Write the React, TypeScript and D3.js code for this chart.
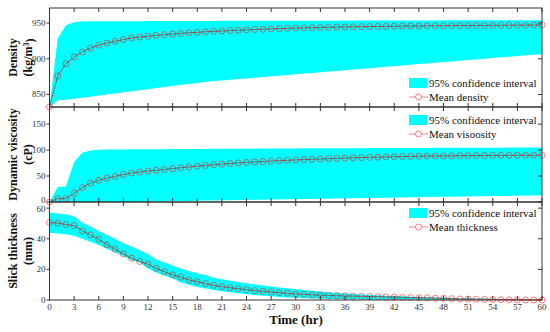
import React from "react";
import * as d3 from "d3";

const hours = d3.range(0, 61);

const densityMean = [832.5, 876, 893, 902.5, 909.5, 915, 919, 922, 924.5, 926.8, 929, 930.3, 931.5, 932.6, 933.7, 934.6, 935.5, 936.3, 937, 937.7, 938.3, 938.9, 939.4, 939.9, 940.4, 940.9, 941.3, 941.7, 942.1, 942.5, 942.9, 943.2, 943.5, 943.8, 944, 944.3, 944.5, 944.7, 944.9, 945, 945.2, 945.3, 945.5, 945.6, 945.8, 945.9, 946, 946.1, 946.2, 946.3, 946.4, 946.5, 946.6, 946.6, 946.7, 946.8, 946.9, 947, 947, 947.1, 947.2];
const densityUpper = [832.5, 928.5, 947, 951, 952, 952.3, 952.4, 952.5, 952.5, 952.6, 952.6, 952.6, 952.7, 952.7, 952.7, 952.8, 952.8, 952.8, 952.9, 952.9, 952.9, 953, 953, 953, 953, 953.1, 953.1, 953.1, 953.2, 953.2, 953.2, 953.2, 953.3, 953.3, 953.3, 953.3, 953.4, 953.4, 953.4, 953.4, 953.5, 953.5, 953.5, 953.5, 953.6, 953.6, 953.6, 953.6, 953.7, 953.7, 953.7, 953.7, 953.8, 953.8, 953.8, 953.8, 953.9, 953.9, 953.9, 954, 954];
const densityLower = [832.5, 841.5, 842.5, 844, 845.5, 847, 848.5, 850, 851.5, 853, 854.5, 856, 857.5, 859, 860.5, 862, 863.5, 864.8, 866.1, 867.4, 868.7, 869.7, 870.6, 871.6, 872.5, 873.5, 874.4, 875.4, 876.3, 877.3, 878.2, 879.2, 880.1, 881.1, 882, 883, 883.9, 884.9, 885.8, 886.8, 887.7, 888.7, 889.6, 890.6, 891.5, 892.5, 893.4, 894.4, 895.3, 896.3, 897.2, 898.2, 899.1, 900.1, 901, 902, 902.9, 903.9, 904.8, 905.7, 906.5];

const viscMean = [0, 6.5, 6.5, 17, 27.7, 36.5, 41.7, 46, 49.4, 53, 55.8, 57.7, 59.6, 61.2, 62.8, 64.3, 66, 67.5, 69, 70.4, 71.8, 73, 74.2, 75.3, 76.3, 77.2, 78, 78.8, 79.6, 80.3, 81, 81.7, 82.3, 82.9, 83.5, 84, 84.5, 85, 85.5, 86, 86.4, 86.8, 87.2, 87.5, 87.8, 88.1, 88.4, 88.6, 88.8, 89, 89.2, 89.4, 89.5, 89.6, 89.7, 89.8, 89.9, 90, 90, 90.1, 90.2];
const viscUpper = [0, 29, 30, 77, 95, 99, 100.5, 101, 101.2, 101.3, 101.4, 101.5, 101.6, 101.7, 101.8, 101.9, 102, 102.1, 102.2, 102.3, 102.4, 102.5, 102.6, 102.6, 102.7, 102.8, 102.9, 103, 103, 103.1, 103.2, 103.3, 103.3, 103.4, 103.5, 103.5, 103.6, 103.7, 103.7, 103.8, 103.9, 103.9, 104, 104.1, 104.1, 104.2, 104.2, 104.3, 104.4, 104.4, 104.5, 104.5, 104.6, 104.6, 104.7, 104.7, 104.8, 104.8, 104.9, 104.9, 105];
const viscLower = [0, 0, 0, 0, 0, 0, 0, 0, 0, 0, 0, 0.3, 0.6, 0.9, 1.2, 1.5, 1.8, 2.1, 2.4, 2.7, 3, 3.2, 3.5, 3.7, 4, 4.2, 4.5, 4.7, 5, 5.2, 5.5, 5.7, 6, 6.2, 6.5, 6.7, 7, 7.2, 7.5, 7.7, 8, 8.2, 8.5, 8.7, 9, 9.2, 9.5, 9.7, 10, 10.2, 10.5, 10.7, 11, 11.2, 11.5, 11.7, 12, 12.2, 12.5, 12.7, 13];

const thickMean = [50.6, 50.2, 49.3, 48.6, 45.2, 42.5, 39.7, 36, 33.2, 30.1, 27.3, 25.1, 23.4, 20.7, 18.5, 16.4, 14.9, 13.1, 12, 10.7, 9.6, 8.7, 8, 7.4, 6.8, 6.1, 5.7, 5.2, 4.8, 4.4, 3.9, 3.7, 3.4, 3.2, 3, 2.8, 2.6, 2.5, 2.4, 2.3, 2.2, 2, 1.9, 1.7, 1.6, 1.5, 1.4, 1.2, 1.1, 0.9, 0.7, 0.6, 0.5, 0.4, 0.3, 0.2, 0.15, 0.1, 0.05, 0.02, 0];
const thickUpper = [57, 56.5, 56, 54.5, 50.5, 48, 45, 42.5, 40, 37, 35, 32.5, 30, 26.5, 24.5, 22.5, 20.5, 19, 17.5, 16.3, 14.5, 13.5, 12.5, 11.7, 11, 10.2, 9.5, 8.8, 8.2, 7.6, 7, 6.5, 6, 5.5, 5.1, 4.7, 4.3, 4, 3.6, 3.3, 3.1, 2.8, 2.6, 2.4, 2.2, 2, 1.8, 1.7, 1.5, 1.4, 1.2, 1.1, 1, 0.9, 0.8, 0.7, 0.7, 0.6, 0.6, 0.5, 0.5];
const thickLower = [44, 43.5, 43, 42, 40, 38, 36, 33.5, 31, 28.5, 26, 24.5, 20.5, 18, 16, 14, 11.5, 10, 8.5, 7.5, 6.5, 5.7, 5, 4.4, 3.8, 3.3, 2.8, 2.4, 2, 1.7, 1.4, 1.2, 1, 0.8, 0.6, 0.5, 0.4, 0.3, 0.25, 0.2, 0.1, 0.05, 0, 0, 0, 0, 0, 0, 0, 0, 0, 0, 0, 0, 0, 0, 0, 0, 0, 0, 0];

const xTickValues = d3.range(0, 61, 3);

const panels = [
  { mean: densityMean, upper: densityUpper, lower: densityLower, domain: [832.5, 971], ticks: [850, 900, 950], label1: "Density", label2: "(kg/m", sup: "3", label2b: ")", meanName: "Mean density", top: 8, bottom: 107, legendY: 78 },
  { mean: viscMean, upper: viscUpper, lower: viscLower, domain: [0, 183], ticks: [0, 50, 100, 150], label1: "Dynamic viscosity", label2: "(cP)", sup: "", label2b: "", meanName: "Mean visoosity", top: 107, bottom: 202, legendY: 115 },
  { mean: thickMean, upper: thickUpper, lower: thickLower, domain: [0, 64], ticks: [0, 20, 40, 60], label1: "Slick thickness", label2: "(mm)", sup: "", label2b: "", meanName: "Mean thickness", top: 202, bottom: 300, legendY: 208 },
];

const LEFT = 49.5;
const RIGHT = 542;
const AXIS = "#333";
const SERIF = "Liberation Serif, DejaVu Serif, serif";

export default function App() {
  const x = d3.scaleLinear().domain([0, 60]).range([LEFT, RIGHT]);
  return (
    <svg width={550} height={332} style={{ position: "absolute", left: 0, top: 0, fontFamily: SERIF }}>
      <rect width={550} height={332} fill="white" />
      {panels.map((p, pi) => {
        const y = d3.scaleLinear().domain(p.domain).range([p.bottom, p.top]);
        const area = d3.area<number>().x((_, i) => x(hours[i])).y0((_, i) => y(p.lower[i])).y1((d) => y(d));
        const line = d3.line<number>().x((_, i) => x(hours[i])).y((d) => y(d));
        const midY = (p.top + p.bottom) / 2;
        const ly = p.legendY;
        return (
          <g key={pi}>
            <path d={area(p.upper) || ""} fill="#00ffff" />
            <rect x={LEFT} y={p.top} width={RIGHT - LEFT} height={p.bottom - p.top} fill="none" stroke={AXIS} strokeWidth={1} />
            {xTickValues.map((t) => (
              <g key={t}>
                <line x1={x(t)} x2={x(t)} y1={p.top} y2={p.top + 4} stroke={AXIS} />
                <line x1={x(t)} x2={x(t)} y1={p.bottom} y2={p.bottom - 4} stroke={AXIS} />
              </g>
            ))}
            {p.ticks.map((t, ti) => {
              const shift = pi === 1 && ti === 0 ? -1.5 : pi === 2 && ti === p.ticks.length - 1 ? 1 : 0;
              return (
                <g key={t}>
                  <line x1={LEFT - 3} x2={LEFT} y1={y(t)} y2={y(t)} stroke={AXIS} />
                  <line x1={RIGHT - 4} x2={RIGHT} y1={y(t)} y2={y(t)} stroke={AXIS} />
                  <text x={LEFT - 4} y={y(t) + shift} dy="0.33em" textAnchor="end" fontSize={9} fill="#333" style={{ fontFamily: SERIF }}>{t}</text>
                </g>
              );
            })}
            <path d={line(p.mean) || ""} fill="none" stroke="#c00000" strokeOpacity={0.6} strokeWidth={1} />
            {p.mean.map((v, i) => (
              <circle key={i} cx={x(hours[i])} cy={y(v)} r={3} fill="none" stroke="#ff0000" strokeOpacity={0.5} strokeWidth={1} />
            ))}
            <g transform={`translate(13,${midY}) rotate(-90)`}>
              <text textAnchor="middle" dy="0.35em" fontSize={12} fontWeight="bold" fill="#111" style={{ fontFamily: SERIF }}>{p.label1}</text>
            </g>
            <g transform={`translate(28,${midY}) rotate(-90)`}>
              <text textAnchor="middle" dy="0.35em" fontSize={12} fontWeight="bold" fill="#111" style={{ fontFamily: SERIF }}>
                {p.label2}
                {p.sup ? <tspan dy="-0.4em" fontSize={8}>{p.sup}</tspan> : null}
                {p.label2b ? <tspan dy="0.4em">{p.label2b}</tspan> : null}
              </text>
            </g>
            <rect x={409} y={ly} width={18} height={10} fill="#00ffff" />
            <text x={429} y={ly + 9} fontSize={11} fill="#111" style={{ fontFamily: SERIF }}>95% confidence interval</text>
            <line x1={409} x2={428} y1={ly + 19} y2={ly + 19} stroke="#ff0000" strokeOpacity={0.5} />
            <circle cx={418.5} cy={ly + 19} r={3} fill="white" stroke="#ff0000" strokeOpacity={0.5} />
            <text x={429} y={ly + 22.5} fontSize={11} fill="#111" style={{ fontFamily: SERIF }}>{p.meanName}</text>
          </g>
        );
      })}
      {xTickValues.map((t) => (
        <text key={t} x={x(t)} y={310} textAnchor="middle" fontSize={9} fill="#333" style={{ fontFamily: SERIF }}>{t}</text>
      ))}
      <text x={296} y={324} textAnchor="middle" fontSize={13} fontWeight="bold" fill="#111" style={{ fontFamily: SERIF }}>Time (hr)</text>
    </svg>
  );
}
